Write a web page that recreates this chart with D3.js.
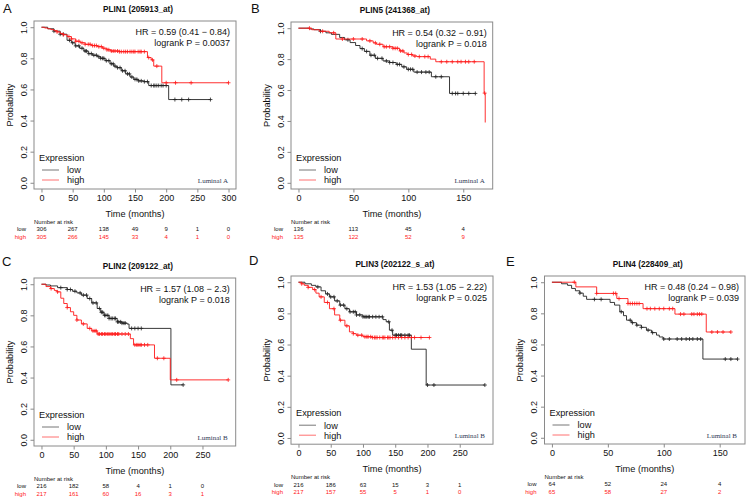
<!DOCTYPE html>
<html>
<head>
<meta charset="utf-8">
<script src="https://cdn.jsdelivr.net/npm/d3@7"></script>
<style>
html,body{margin:0;padding:0;background:#fff;}
svg{display:block;}
</style>
</head>
<body>
<svg id="chart" width="750" height="499"></svg>
<script>
// ---------------- DATA ----------------
const panelLetters = ["A", "B", "C", "D", "E"];
const titles = ["PLIN1 (205913_at)", "PLIN5 (241368_at)", "PLIN2 (209122_at)", "PLIN3 (202122_s_at)", "PLIN4 (228409_at)"];
const hrTexts = ["HR = 0.59 (0.41 \u2212 0.84)", "HR = 0.54 (0.32 \u2212 0.91)", "HR = 1.57 (1.08 \u2212 2.3)", "HR = 1.53 (1.05 \u2212 2.22)", "HR = 0.48 (0.24 \u2212 0.98)"];
const pTexts = ["logrank P = 0.0037", "logrank P = 0.018", "logrank P = 0.018", "logrank P = 0.025", "logrank P = 0.039"];
const subtypes = ["Luminal A", "Luminal A", "Luminal B", "Luminal B", "Luminal B"];
const legendLabels = ["low", "high"];
const yTicks = [0, 0.2, 0.4, 0.6, 0.8, 1.0];

const xTicksA = [0, 50, 100, 150, 200, 250, 300];
const xTicksB = [0, 50, 100, 150];
const xTicksC = [0, 50, 100, 150, 200, 250];
const xTicksD = [0, 50, 100, 150, 200, 250];
const xTicksE = [0, 50, 100, 150];

const riskLowA = [306, 267, 138, 49, 9, 1, 0];
const riskHighA = [305, 266, 145, 33, 4, 1, 0];
const riskLowB = [136, 113, 45, 4];
const riskHighB = [135, 122, 52, 9];
const riskLowC = [216, 182, 58, 4, 1, 0];
const riskHighC = [217, 161, 60, 16, 3, 1];
const riskLowD = [216, 186, 63, 15, 3, 1];
const riskHighD = [217, 157, 55, 5, 1, 0];
const riskLowE = [64, 52, 24, 4];
const riskHighE = [65, 58, 27, 2];

// Kaplan-Meier steps: [time, survival from that time on]
const lowStepsA = [[0,1],[10,0.99],[20,0.975],[30,0.955],[41,0.916],[48,0.9],[54,0.88],[61,0.865],[68,0.847],[75,0.83],[82,0.82],[90,0.81],[95,0.8],[102,0.785],[110,0.765],[116,0.75],[121,0.74],[128,0.72],[135,0.7],[142,0.68],[148,0.665],[155,0.655],[164,0.65],[172,0.625],[204,0.535]];
const highStepsA = [[0,1],[5,0.995],[10,0.99],[15,0.985],[20,0.978],[25,0.97],[30,0.96],[35,0.952],[41,0.94],[48,0.925],[55,0.91],[62,0.9],[70,0.89],[80,0.882],[90,0.875],[98,0.865],[105,0.855],[111,0.847],[125,0.843],[170,0.805],[176,0.79],[180,0.75],[193,0.643]];
const lowCensorA = [20,30,35,45,50,55,60,65,70,72,76,80,84,88,92,95,98,100,104,108,112,115,118,122,126,130,134,138,141,145,150,153,156,160,165,170,176,180,182,185,188,192,195,200,214,225,236,271];
const highCensorA = [25,35,44,48,55,60,65,70,75,78,82,85,88,92,96,100,105,108,112,115,118,122,125,128,132,135,138,142,145,148,150,155,158,160,165,172,178,185,200,215,240,300];
const lowEndA = 271, highEndA = 300;

const lowStepsB = [[0,1],[10,0.995],[14,0.99],[20,0.98],[25,0.97],[30,0.96],[37.5,0.94],[42,0.925],[47,0.907],[52,0.888],[56,0.868],[60,0.85],[65,0.825],[70,0.805],[77,0.788],[83,0.778],[89,0.766],[94,0.75],[98.5,0.734],[105,0.716],[121,0.686],[137.5,0.578]];
const highStepsB = [[0,1],[12,0.99],[19,0.98],[28,0.97],[34,0.93],[62,0.918],[68,0.905],[71,0.896],[77,0.88],[86,0.87],[92,0.853],[96,0.84],[99,0.83],[104,0.82],[108,0.816],[120,0.8],[125,0.783],[169,0.58],[170,0.39]];
const lowCensorB = [20,45,58,62,66,69,72,76,80,83,86,90,92,96,100,102,104,108,112,116,119,125,130,140,143,145,150,155,161];
const highCensorB = [10,22,32,40,50,58,65,70,74,78,80,83,86,88,90,93,95,100,103,106,110,115,118,130,135,140,145,148,152,155,160,169.5];
const lowEndB = 161, highEndB = 170;

const lowStepsC = [[0,1],[7,0.995],[14,0.989],[25,0.978],[40,0.966],[48,0.955],[55,0.944],[62,0.93],[71,0.908],[78,0.88],[86.5,0.844],[92,0.82],[97,0.8],[105,0.78],[117.5,0.758],[125,0.75],[133,0.744],[136,0.716],[201,0.353]];
const highStepsC = [[0,1],[7,0.985],[14,0.972],[20,0.96],[24,0.951],[30,0.91],[34.6,0.876],[40,0.85],[45,0.823],[50,0.8],[55,0.77],[62,0.745],[71,0.716],[78,0.7],[86.5,0.68],[138,0.65],[143,0.61],[175.5,0.524],[200,0.385]];
const lowCensorC = [30,40,45,52,60,65,70,75,80,85,90,93,95,98,100,103,105,108,110,113,115,118,120,123,125,128,130,140,145,150,155,220];
const highCensorC = [15,25,40,55,65,75,80,83,85,88,90,93,95,98,100,103,105,108,110,113,115,118,120,125,130,135,145,148,150,153,155,160,165,180,190,210,290];
const lowEndC = 220, highEndC = 290;

const lowStepsD = [[0,1],[10,0.99],[20,0.98],[27,0.97],[35,0.945],[42,0.925],[48,0.906],[56,0.88],[64,0.853],[72,0.83],[79,0.81],[90,0.79],[100,0.778],[131,0.76],[136,0.746],[141,0.692],[146,0.66],[175,0.57],[198,0.34]];
const highStepsD = [[0,1],[5,0.99],[9,0.98],[15,0.967],[22,0.953],[27,0.93],[32,0.906],[40,0.87],[48,0.83],[56,0.79],[64,0.756],[72,0.72],[79,0.681],[85,0.67],[89.6,0.66],[100,0.65],[115,0.645]];
const lowCensorD = [30,45,50,55,60,65,70,75,80,85,88,90,95,100,103,105,108,110,115,120,125,130,140,145,150,152,155,158,160,165,170,172,200,210,289];
const highCensorD = [5,15,25,35,45,55,65,75,85,92,98,103,106,108,112,115,118,120,122,126,130,132,134,138,140,142,146,150,155,160,165,170,175,180,190,203];
const lowEndD = 289, highEndD = 203;

const lowStepsE = [[0,1],[8.6,0.99],[14,0.98],[17.6,0.96],[21,0.945],[25,0.93],[28,0.91],[31,0.89],[52,0.87],[56,0.853],[60.7,0.81],[64,0.785],[66.7,0.756],[71,0.74],[75.6,0.724],[80,0.71],[84.5,0.692],[89,0.676],[93.5,0.66],[96,0.648],[99.4,0.635],[135,0.506]];
const highStepsE = [[0,1],[21.4,0.97],[40,0.928],[58,0.895],[68,0.863],[81.5,0.83],[110,0.795],[138,0.68]];
const lowCensorE = [25,38,44,62,70,72,76,80,86,90,100,105,112,116,120,123,126,130,133,155,160,166];
const highCensorE = [20,40,55,57,60,68,70,72,74,76,78,85,88,92,96,100,105,108,115,118,125,127,130,132,134,143,148,153,160];
const lowEndE = 166, highEndE = 160;

const xMax = [300, 170, 290, 290, 166];

// ---------------- LAYOUT ----------------
const boxes = [
  {l: 34, r: 236, t: 21, b: 189},
  {l: 291, r: 492.7, t: 22, b: 189},
  {l: 34, r: 235.7, t: 278, b: 446},
  {l: 291, r: 493, t: 276, b: 444.2},
  {l: 544.5, r: 745, t: 276, b: 444}
];
const letterPos = [[3, 12.5], [251, 13], [2, 266], [249, 265], [506, 266]];

const panels = [
  {xt: xTicksA, rl: riskLowA, rh: riskHighA, ls: lowStepsA, hs: highStepsA, lc: lowCensorA, hc: highCensorA, le: lowEndA, he: highEndA},
  {xt: xTicksB, rl: riskLowB, rh: riskHighB, ls: lowStepsB, hs: highStepsB, lc: lowCensorB, hc: highCensorB, le: lowEndB, he: highEndB},
  {xt: xTicksC, rl: riskLowC, rh: riskHighC, ls: lowStepsC, hs: highStepsC, lc: lowCensorC, hc: highCensorC, le: lowEndC, he: highEndC},
  {xt: xTicksD, rl: riskLowD, rh: riskHighD, ls: lowStepsD, hs: highStepsD, lc: lowCensorD, hc: highCensorD, le: lowEndD, he: highEndD},
  {xt: xTicksE, rl: riskLowE, rh: riskHighE, ls: lowStepsE, hs: highStepsE, lc: lowCensorE, hc: highCensorE, le: lowEndE, he: highEndE}
];

const SANS = "'Liberation Sans', Arial, sans-serif";
const SERIF = "'Liberation Serif', 'Times New Roman', serif";
const LOWC = "#222";
const HIGHC = "#ff1a1a";
const BOXC = "#8a8a8a";

const svg = d3.select("#chart");

function survAt(steps, t) {
  let s = steps[0][1];
  for (const st of steps) { if (st[0] <= t) s = st[1]; else break; }
  return s;
}

panels.forEach((p, i) => {
  const bx = boxes[i];
  const xm = xMax[i];
  const x = d3.scaleLinear().domain([-0.04 * xm, 1.04 * xm]).range([bx.l, bx.r]);
  const y = d3.scaleLinear().domain([-0.04, 1.04]).range([bx.b, bx.t]);
  const g = svg.append("g");

  g.append("text").attr("x", letterPos[i][0]).attr("y", letterPos[i][1])
    .attr("font-family", SANS).attr("font-size", 13).attr("fill", "#111").text(panelLetters[i]);

  g.append("text").attr("x", (bx.l + bx.r) / 2 + 3).attr("y", bx.t - 9)
    .attr("text-anchor", "middle").attr("font-family", SANS).attr("font-size", 8.2)
    .attr("font-weight", "bold").attr("fill", "#111").text(titles[i]);

  g.append("rect").attr("x", bx.l).attr("y", bx.t).attr("width", bx.r - bx.l).attr("height", bx.b - bx.t)
    .attr("fill", "none").attr("stroke", BOXC).attr("stroke-width", 1);

  const xa = g.append("g").attr("transform", `translate(0,${bx.b})`)
    .call(d3.axisBottom(x).tickValues(p.xt).tickSize(3.5).tickSizeOuter(0).tickPadding(2).tickFormat(d3.format("d")));
  xa.select(".domain").remove();
  xa.selectAll("line").attr("stroke", BOXC);
  xa.selectAll("text").attr("font-family", SANS).attr("font-size", 9).attr("fill", "#111");

  const ya = g.append("g").attr("transform", `translate(${bx.l},0)`)
    .call(d3.axisLeft(y).tickValues(yTicks).tickSize(3.5).tickSizeOuter(0).tickFormat(d3.format(".1f")));
  ya.select(".domain").remove();
  ya.selectAll("line").attr("stroke", BOXC);
  ya.selectAll("text").attr("font-family", SANS).attr("font-size", 9).attr("fill", "#111")
    .attr("text-anchor", "middle").attr("dy", null)
    .attr("x", null)
    .attr("transform", "translate(-7.5,0) rotate(-90)")
    .attr("y", 0);

  g.append("text").attr("x", (bx.l + bx.r) / 2).attr("y", bx.b + 27.5).attr("text-anchor", "middle")
    .attr("font-family", SANS).attr("font-size", 9.2).attr("fill", "#111").text("Time (months)");
  g.append("text").attr("transform", `translate(${bx.l - 21.5},${(bx.t + bx.b) / 2}) rotate(-90)`)
    .attr("text-anchor", "middle").attr("font-family", SANS).attr("font-size", 9.2).attr("fill", "#111").text("Probability");

  const line = d3.line().x(d => x(d[0])).y(d => y(d[1])).curve(d3.curveStepAfter);
  const series = [
    {steps: p.ls, cens: p.lc, end: p.le, color: LOWC},
    {steps: p.hs, cens: p.hc, end: p.he, color: HIGHC}
  ];
  series.forEach(sr => {
    const pts = sr.steps.concat([[sr.end, sr.steps[sr.steps.length - 1][1]]]);
    g.append("path").attr("d", line(pts)).attr("fill", "none").attr("stroke", sr.color).attr("stroke-width", 0.9);
    const cp = sr.cens.map(t => {
      const cx = x(t), cy = y(survAt(sr.steps, t));
      return `M${cx - 2},${cy}H${cx + 2}M${cx},${cy - 2}V${cy + 2}`;
    }).join("");
    g.append("path").attr("d", cp).attr("fill", "none").attr("stroke", sr.color).attr("stroke-width", 0.8);
  });

  g.append("text").attr("x", bx.r - 6).attr("y", bx.t + 13.5).attr("text-anchor", "end")
    .attr("font-family", SANS).attr("font-size", 9).attr("fill", "#111").text(hrTexts[i]);
  g.append("text").attr("x", bx.r - 6).attr("y", bx.t + 24.5).attr("text-anchor", "end")
    .attr("font-family", SANS).attr("font-size", 9).attr("fill", "#111").text(pTexts[i]);

  g.append("text").attr("x", bx.l + 5).attr("y", bx.b - 28.5)
    .attr("font-family", SANS).attr("font-size", 9.2).attr("fill", "#111").text("Expression");
  [LOWC, HIGHC].forEach((c, k) => {
    const ly = bx.b - 19 + k * 10;
    g.append("line").attr("x1", bx.l + 8).attr("x2", bx.l + 25).attr("y1", ly).attr("y2", ly)
      .attr("stroke", k === 0 ? "#777" : "#ff7070").attr("stroke-width", 1);
    g.append("text").attr("x", bx.l + 33).attr("y", ly + 3.3)
      .attr("font-family", SANS).attr("font-size", 9.2).attr("fill", "#111").text(legendLabels[k]);
  });

  g.append("text").attr("x", bx.r - 8).attr("y", bx.b - 6.5).attr("text-anchor", "end")
    .attr("font-family", SERIF).attr("font-size", 7).attr("fill", "#2f3a55").text(subtypes[i]);

  g.append("text").attr("x", bx.l).attr("y", bx.b + 35)
    .attr("font-family", SANS).attr("font-size", 6).attr("fill", "#111").text("Number at risk");
  [[p.rl, "#111", legendLabels[0]], [p.rh, "#ff1a1a", legendLabels[1]]].forEach((row, k) => {
    const ry = bx.b + 42.3 + k * 7.5;
    g.append("text").attr("x", bx.l - 8).attr("y", ry).attr("text-anchor", "end")
      .attr("font-family", SANS).attr("font-size", 6).attr("fill", row[1]).text(row[2]);
    g.selectAll(null).data(row[0]).enter().append("text")
      .attr("x", (d, j) => x(p.xt[j])).attr("y", ry).attr("text-anchor", "middle")
      .attr("font-family", SANS).attr("font-size", 6).attr("fill", row[1]).text(d => d);
  });
});
</script>
</body>
</html>
